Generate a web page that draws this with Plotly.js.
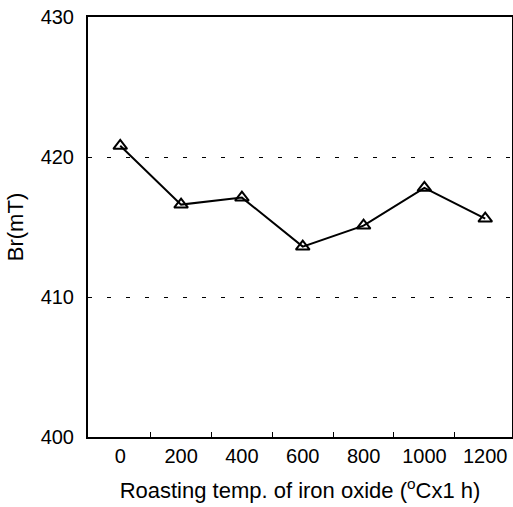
<!DOCTYPE html>
<html>
<head>
<meta charset="utf-8">
<script src="https://cdn.plot.ly/plotly-3.0.1.min.js"></script>
<style>
  html, body { margin: 0; padding: 0; background: #fff; }
  #chart { width: 513px; height: 507px; }
</style>
</head>
<body>
<div id="chart"></div>
<script>
// Roasting temperature of the iron oxide (°C, 1 h) and resulting remanence Br
const temperatures = ['0', '200', '400', '600', '800', '1000', '1200'];
const brValues = [420.8, 416.6, 417.1, 413.6, 415.1, 417.8, 415.6];
const yTicks = [400, 410, 420, 430];

const positions = temperatures.map((_, i) => i);
// small tick marks sit between the category labels
const betweenTicks = temperatures.slice(1).map((_, i) => i + 0.5);

const family = '"Liberation Sans", Arial, sans-serif';
const tickFont = { family: family, size: 20, color: '#000' };
const titleFont = { family: family, size: 22, color: '#000' };

const traces = [
  {
    x: positions,
    y: brValues,
    type: 'scatter',
    mode: 'lines+markers',
    line: { color: '#000', width: 2 },
    marker: { symbol: 'triangle-up-open', size: 12, color: '#000', line: { color: '#000', width: 2 } },
    showlegend: false,
    hoverinfo: 'x+y'
  },
  {
    // invisible helper trace so the tick-mark axis is drawn
    x: betweenTicks,
    y: betweenTicks.map(() => 400),
    xaxis: 'x2',
    type: 'scatter',
    mode: 'markers',
    marker: { opacity: 0 },
    showlegend: false,
    hoverinfo: 'skip'
  }
];

const layout = {
  width: 513,
  height: 507,
  margin: { l: 88, r: 1, t: 17, b: 70 },
  paper_bgcolor: '#fff',
  plot_bgcolor: '#fff',
  font: tickFont,
  xaxis: {
    range: [-0.53, 6.44],
    tickvals: positions,
    ticktext: temperatures,
    ticks: '',
    showgrid: false,
    zeroline: false,
    showline: true,
    linecolor: '#000',
    linewidth: 2,
    mirror: true,
    tickfont: tickFont,
    title: {
      text: 'Roasting temp. of iron oxide (<sup>o</sup>Cx1 h)',
      font: titleFont,
      standoff: 17
    },
    automargin: false
  },
  xaxis2: {
    overlaying: 'x',
    range: [-0.53, 6.44],
    tickvals: betweenTicks,
    ticks: 'inside',
    ticklen: 5,
    tickwidth: 1,
    tickcolor: '#000',
    showticklabels: false,
    showgrid: false,
    zeroline: false,
    showline: false,
    anchor: 'y'
  },
  yaxis: {
    range: [400, 430],
    tickvals: yTicks,
    ticks: '',
    showgrid: true,
    gridcolor: '#000',
    gridwidth: 1,
    griddash: '4px,15px',
    zeroline: false,
    showline: true,
    linecolor: '#000',
    linewidth: 2,
    mirror: true,
    tickfont: tickFont,
    ticklabelstandoff: 8,
    title: { text: 'Br(mT)', font: titleFont, standoff: 11 },
    automargin: false
  }
};

Plotly.newPlot('chart', traces, layout, { displayModeBar: false, staticPlot: true });
</script>
</body>
</html>
